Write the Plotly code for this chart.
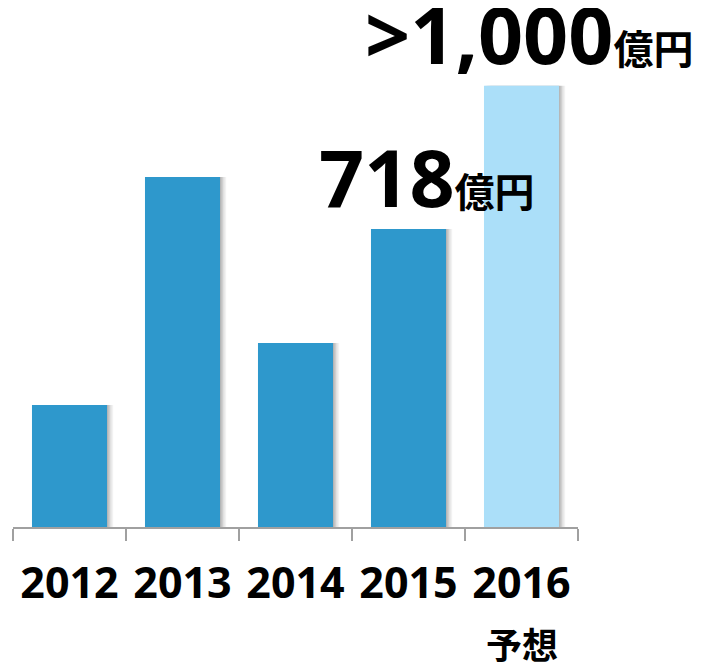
import plotly.graph_objects as go

years = ["2012", "2013", "2014", "2015", "2016"]
values = [294, 843, 443, 718, 1063]
bar_colors = ["#2E98CC", "#2E98CC", "#2E98CC", "#2E98CC", "#ABDFF9"]
value_labels = ["", "", "", "718", ">1,000"]
label_xshift = [0, 0, 0, 18, 7]
unit = "億円"
note_year = "2016"
note_text = "予想"

BAR_W = 0.664
fig = go.Figure()
# soft shadow layers
for k, a in [(0.055, 0.05), (0.04, 0.07), (0.025, 0.09), (0.012, 0.1)]:
    fig.add_trace(go.Bar(x=years, y=values, width=BAR_W, offset=-BAR_W / 2 + k,
                         marker=dict(color=f"rgba(0,0,0,{a})", line=dict(width=0)),
                         hoverinfo="skip", showlegend=False))
fig.add_trace(go.Bar(x=years, y=values, width=BAR_W, offset=-BAR_W / 2,
                     marker=dict(color=bar_colors, line=dict(width=0)),
                     showlegend=False))

for i, (v, lab, xs) in enumerate(zip(values, value_labels, label_xshift)):
    if lab:
        fig.add_annotation(x=i, y=v, xref="x", yref="y", xanchor="center", yanchor="bottom",
                           xshift=xs, yshift=-3, showarrow=False,
                           text=f"<b>{lab}</b><b style='font-size:40px'>{unit}</b>",
                           font=dict(family="Noto Sans, Noto Sans CJK JP", size=79, color="#000000"))

fig.add_annotation(x=years.index(note_year), y=0, xref="x", yref="paper", yanchor="top", yshift=-88,
                   showarrow=False, text=f"<b>{note_text}</b>",
                   font=dict(family="Noto Sans CJK JP", size=36, color="#000000"))

fig.update_layout(
    width=711, height=662,
    margin=dict(l=5, r=141, t=52, b=143, autoexpand=False),
    paper_bgcolor="white", plot_bgcolor="white",
    barmode="overlay",
    xaxis=dict(type="category", range=[-0.5, 4.5], autorange=False,
               showline=True, linecolor="#A0A0A0", linewidth=2,
               ticks="outside", tickson="boundaries", ticklen=12, tickcolor="#A0A0A0", tickwidth=2,
               tickfont=dict(family="Noto Sans", size=43, color="#000000", weight="bold"),
               tickangle=0, ticklabelstandoff=17, showgrid=False, zeroline=False, automargin=False),
    yaxis=dict(range=[0, 1125], autorange=False, visible=False, showgrid=False, zeroline=False,
               automargin=False),
)
fig.write_html("out.html")
